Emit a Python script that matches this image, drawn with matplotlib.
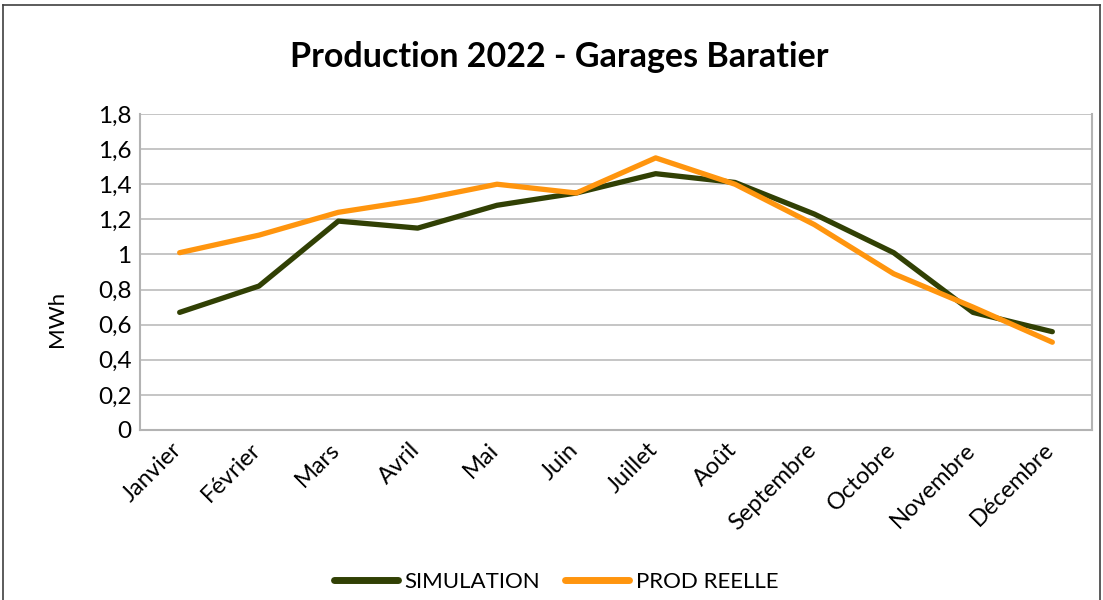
import matplotlib
matplotlib.use("Agg")
import matplotlib.pyplot as plt
from matplotlib.ticker import FuncFormatter, MultipleLocator
from matplotlib.lines import Line2D
from matplotlib.transforms import ScaledTranslation

plt.rcParams['font.family'] = ['Lato', 'DejaVu Sans']

months = ["Janvier", "Février", "Mars", "Avril", "Mai", "Juin", "Juillet",
          "Août", "Septembre", "Octobre", "Novembre", "Décembre"]
simulation = [0.67, 0.82, 1.19, 1.15, 1.28, 1.35, 1.46, 1.41, 1.23, 1.01, 0.67, 0.56]
prod_reelle = [1.01, 1.11, 1.24, 1.31, 1.40, 1.35, 1.55, 1.40, 1.17, 0.89, 0.70, 0.50]

title = "Production 2022 - Garages Baratier"
ylabel = "MWh"
series_names = ["SIMULATION", "PROD REELLE"]
colors = ["#314004", "#ff950e"]

fig = plt.figure(figsize=(11.03, 6.0), dpi=100)
ax = fig.add_axes([140/1103, 1-430/600, (1092-140)/1103, (430-114)/600])

x = list(range(len(months)))
ax.plot(x, simulation, color=colors[0], lw=3.8, solid_capstyle='round', solid_joinstyle='round', zorder=3)
ax.plot(x, prod_reelle, color=colors[1], lw=3.8, solid_capstyle='round', solid_joinstyle='round', zorder=4)

ax.set_xlim(-0.5, len(months) - 0.5)
ax.set_ylim(0, 1.8)
ax.yaxis.set_major_locator(MultipleLocator(0.2))

def fmt(v, pos):
    s = ("%.1f" % v).rstrip('0').rstrip('.')
    return s.replace('.', ',')
ax.yaxis.set_major_formatter(FuncFormatter(fmt))

ax.set_xticks(x)
ax.set_xticklabels(months, rotation=45, ha='right', va='top', rotation_mode='anchor')
ax.tick_params(axis='y', length=0, labelsize=17.5, colors='black', pad=6)
ax.tick_params(axis='x', length=0, labelsize=17, colors='black', pad=8)
off = ScaledTranslation(-9/100, 2/100, fig.dpi_scale_trans)
for lab in ax.get_xticklabels():
    lab.set_transform(lab.get_transform() + off)

ax.grid(axis='y', color='#c0c0c0', lw=1.3)
ax.set_axisbelow(True)
for side in ['left', 'bottom', 'right']:
    ax.spines[side].set_color('#b3b3b3')
    ax.spines[side].set_linewidth(1.5)
ax.spines['top'].set_visible(False)

fig.text(559/1103, 1-57/600, title, ha='center', va='center', fontsize=24.5, fontweight='bold')
fig.text(57/1103, 1-319/600, ylabel, rotation=90, ha='center', va='center', fontsize=16)

handles = [Line2D([0], [0], color=c, lw=5, solid_capstyle='round') for c in colors]
fig.legend(handles, series_names, loc='center', bbox_to_anchor=(556/1103, 1-582/600),
           ncol=2, frameon=False, fontsize=16, handlelength=2.9, handletextpad=0.3,
           columnspacing=1.1)

# figure border
fig.add_artist(Line2D([3/1103, 3/1103], [0, 1-5/600], transform=fig.transFigure, color='#404040', lw=1.2))
fig.add_artist(Line2D([3/1103, 1100/1103], [1-5/600, 1-5/600], transform=fig.transFigure, color='#404040', lw=1.2))
fig.add_artist(Line2D([1100/1103, 1100/1103], [0, 1-5/600], transform=fig.transFigure, color='#404040', lw=1.2))

fig.savefig("out.png", dpi=100)
